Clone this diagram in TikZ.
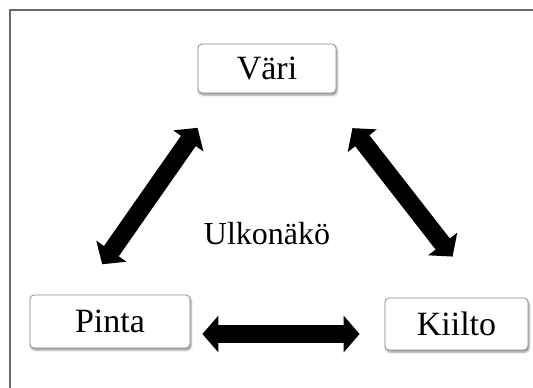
\documentclass[tikz,border=0pt]{standalone}
\usepackage{fontspec,xcolor,tikz}
\setmainfont{Liberation Serif}
\usetikzlibrary{arrows.meta,shadows.blur}
\definecolor{frame}{HTML}{6A6A6A}
\definecolor{boxline}{HTML}{8A8A8A}
\newcommand{\lbl}{\fontsize{34}{39}\selectfont}
\newcommand{\centre}{\fontsize{32}{37}\selectfont}

\begin{document}
\begin{tikzpicture}[x=1pt,y=-1pt,
  termbox/.style={draw=boxline,line width=0.8pt,rounded corners=4pt,fill=white,
    inner sep=0,font=\lbl,
    blur shadow={shadow xshift=1pt,shadow yshift=-2pt,shadow blur radius=2pt,shadow opacity=45}},
  dblarrow/.style={line width=18pt,{Triangle[length=16pt,width=36pt]}-{Triangle[length=16pt,width=36pt]}}]
\useasboundingbox (0,0) rectangle (533,388);
\draw[frame,line width=1.5pt] (10,388) -- (10,10) -- (533,10);
\node[termbox,minimum width=138pt,minimum height=49pt] (vari) at (267,68.5) {Väri};
\node[termbox,minimum width=160pt,minimum height=53pt] (pinta) at (110,321.5) {Pinta};
\node[termbox,minimum width=143pt,minimum height=52pt] (kiilto) at (456.5,324) {Kiilto};
\node[inner sep=0,font=\centre] (ulko) at (267,234) {Ulkonäkö};
\draw[dblarrow,shorten <=42pt,shorten >=37pt] ([xshift=24pt]vari.south west) -- ([xshift=-29pt]pinta.north);
\draw[dblarrow,shorten <=44pt,shorten >=52pt] ([xshift=-11pt]vari.south east) -- ([xshift=28pt]kiilto.north);
\draw[dblarrow,shorten <=12pt,shorten >=25pt] ([yshift=-12.5pt]pinta.east) -- ([yshift=-12.5pt]pinta.east -| kiilto.west);
\end{tikzpicture}
\end{document}
